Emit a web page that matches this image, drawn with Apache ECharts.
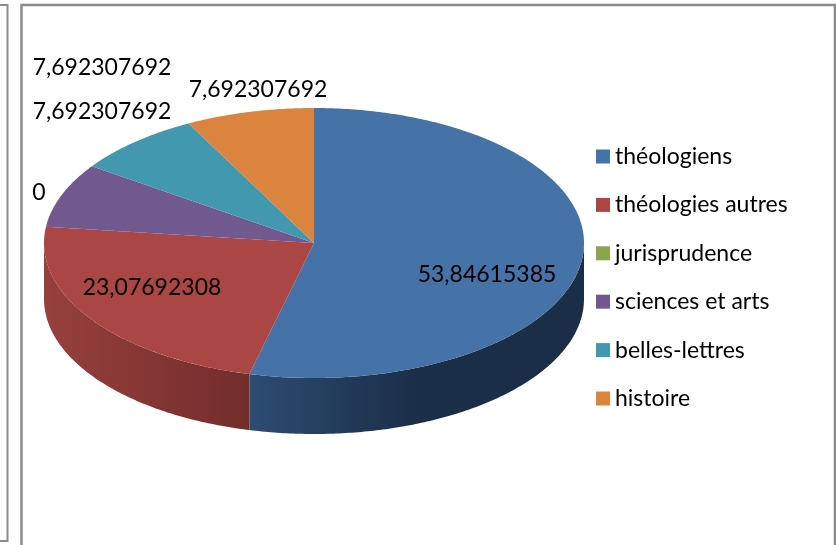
<!DOCTYPE html>
<html><head><meta charset="utf-8">
<style>html,body{margin:0;padding:0;background:#fff}#c{width:836px;height:545px}</style>
<script src="https://cdn.jsdelivr.net/npm/echarts@6/dist/echarts.min.js"></script>
</head><body><div id="c"></div>
<script>
const categories = ['théologiens','théologies autres','jurisprudence','sciences et arts','belles-lettres','histoire'];
const sliceValues = [53.84615385,23.07692308,0,7.692307692,7.692307692,7.692307692];
const labelTexts = ['53,84615385','23,07692308','0','7,692307692','7,692307692','7,692307692'];
const topColors = ['#4572A7','#AA4643','#89A54E','#71588F','#4198AF','#DB843D'];
const wallStops = [
  [[0,'#2C4C72'],[0.5,'#1B2E47'],[1,'#1B2E47']],
  [[0,'#97403D'],[1,'#722D2B']],
  null,null,null,null];
const labelCenters = [[487,275],[152,288],[39,193],[102,112],[102,68],[258,90]];

const CX=314,CY=243,RX=270,RY=135,DEPTH=56;
const total = sliceValues.reduce((a,b)=>a+b,0);
const startOf = i => sliceValues.slice(0,i).reduce((a,b)=>a+b,0)/total*360;
const pt = (deg,dy)=>{const t=deg*Math.PI/180;return [CX+RX*Math.sin(t),CY-RY*Math.cos(t)+(dy||0)];};
function arc(a,b,dy){const n=Math.max(2,Math.ceil(Math.abs(b-a)*1.5));const out=[];for(let k=0;k<=n;k++)out.push(pt(a+(b-a)*k/n,dy));return out;}

function renderSlice(params,api){
  const i=params.seriesIndex, v=api.value(0);
  const a=startOf(i), b=a+v/total*360;
  const children=[];
  if(v>0){
    const wa=Math.max(a,90), wb=Math.min(b,270);
    if(wb>wa && wallStops[i]){
      const top=arc(wa,wb,0), bottom=arc(wb,wa,DEPTH);
      children.push({type:'polygon',shape:{points:top.concat(bottom)},
        style:{fill:new echarts.graphic.LinearGradient(0,0,1,0,
          wallStops[i].map(s=>({offset:s[0],color:s[1]})))}});
    }
    children.push({type:'polygon',shape:{points:[[CX,CY]].concat(arc(a,b,0))},style:{fill:topColors[i]}});
  }
  children.push({type:'text',z2:50,x:labelCenters[i][0],y:labelCenters[i][1],
    style:{text:labelTexts[i],fill:'#000',font:'23px Lato',align:'center',verticalAlign:'middle'}});
  return {type:'group',children};
}

const chart=echarts.init(document.getElementById('c'),null,{renderer:'canvas'});
chart.setOption({
  animation:false,
  backgroundColor:'#fff',
  legend:{orient:'vertical',left:591,top:140,itemWidth:14,itemHeight:14,itemGap:25.4,icon:'rect',
    data:categories,selectedMode:false,
    textStyle:{fontFamily:'Lato',fontSize:23,color:'#000',lineHeight:22}},
  graphic:[
    {type:'polyline',shape:{points:[[0,5],[7.5,5],[7.5,541],[0,541]]},style:{stroke:'#8c8c8c',lineWidth:2,fill:null},silent:true},
    {type:'polyline',shape:{points:[[21.5,545],[21.5,5],[835,5],[835,545]]},style:{stroke:'#8c8c8c',lineWidth:2.5,fill:null},silent:true}
  ],
  series:categories.map((name,i)=>({
    type:'custom',name,coordinateSystem:'none',renderItem:renderSlice,
    itemStyle:{color:topColors[i]},silent:true,
    data:[[sliceValues[i]]]
  }))
});
</script></body></html>
